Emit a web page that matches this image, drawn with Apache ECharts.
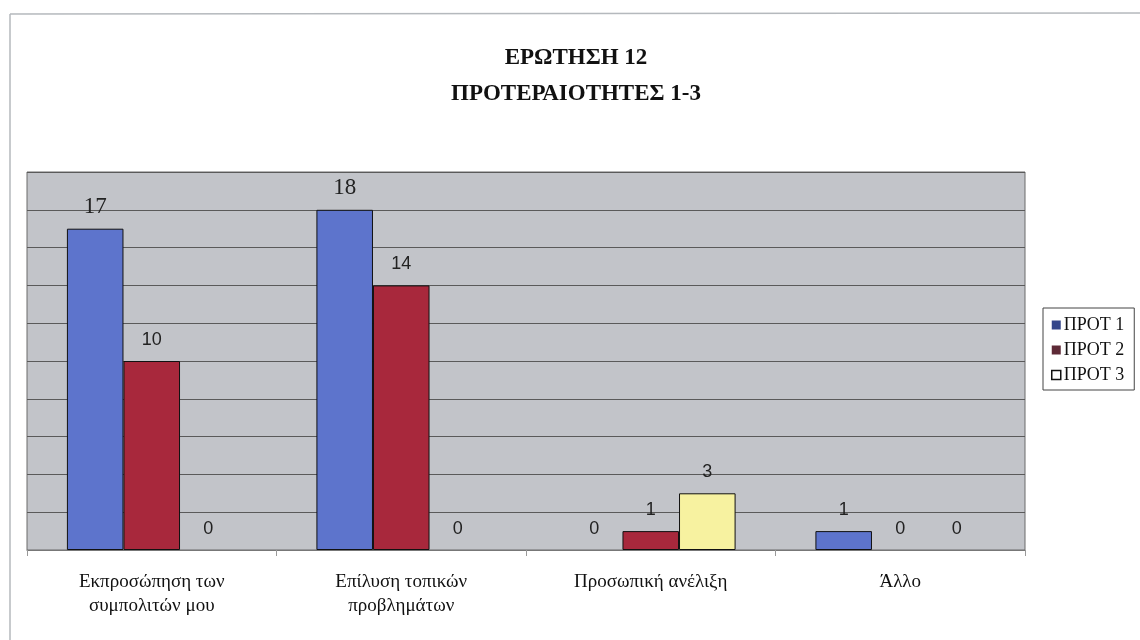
<!DOCTYPE html>
<html>
<head>
<meta charset="utf-8">
<script src="https://cdn.jsdelivr.net/npm/echarts@6/dist/echarts.min.js"></script>
<style>
html,body{margin:0;padding:0;background:#fff;}
#chart{width:1140px;height:640px;}
</style>
</head>
<body>
<div id="chart"></div>
<script>
const titleLines = ['ΕΡΩΤΗΣΗ 12', 'ΠΡΟΤΕΡΑΙΟΤΗΤΕΣ 1-3'];
const categories = ['Εκπροσώπηση των\nσυμπολιτών μου', 'Επίλυση τοπικών\nπροβλημάτων', 'Προσωπική ανέλιξη', 'Άλλο'];
const seriesNames = ['ΠΡΟΤ 1', 'ΠΡΟΤ 2', 'ΠΡΟΤ 3'];
const prot1 = [17, 18, 0, 1];
const prot2 = [10, 14, 1, 0];
const prot3 = [0, 0, 3, 0];
const yMax = 20;
const yInterval = 2;

const barColors = ['#5d74cc', '#a8283c', '#f7f2a0'];
const legendColors = ['#34468a', '#5e2a36', '#ffffff'];
const serifFont = '"Liberation Serif", "DejaVu Serif", serif';
const sansFont = '"Liberation Sans", Arial, sans-serif';

function makeData(values) {
  return values.map(v => {
    const d = { value: v };
    if (v >= 15) {
      d.label = { fontFamily: serifFont, fontSize: 23, distance: 10 };
    }
    if (v === 0) {
      d.itemStyle = { borderWidth: 0 };
    }
    return d;
  });
}

function makeSeries(name, values, idx) {
  return {
    name: name,
    type: 'bar',
    data: makeData(values),
    barGap: '0%',
    barCategoryGap: '32%',
    itemStyle: { color: barColors[idx], borderColor: '#111', borderWidth: 1 },
    label: {
      show: true,
      position: 'top',
      distance: 12,
      color: '#222',
      fontFamily: sansFont,
      fontSize: 18
    },
    emphasis: { disabled: true }
  };
}

const chart = echarts.init(document.getElementById('chart'), null, { renderer: 'canvas' });
chart.setOption({
  animation: false,
  backgroundColor: '#ffffff',
  title: {
    text: titleLines.join('\n'),
    left: 571,
    textAlign: 'center',
    top: 35,
    textStyle: {
      fontFamily: serifFont,
      fontWeight: 'bold',
      fontSize: 23,
      lineHeight: 36,
      color: '#111'
    }
  },
  legend: {
    orient: 'vertical',
    left: 1043,
    top: 308,
    padding: [8, 10, 6, 8],
    borderColor: '#444',
    borderWidth: 1,
    backgroundColor: '#fff',
    icon: 'rect',
    itemWidth: 9,
    itemHeight: 9,
    itemGap: 7,
    selectedMode: false,
    textStyle: { fontFamily: serifFont, fontSize: 18, color: '#111', padding: [0, 0, 0, -2] },
    data: seriesNames.map((n, i) => ({
      name: n,
      itemStyle: { color: legendColors[i], borderColor: '#111', borderWidth: i === 2 ? 1.5 : 0 }
    }))
  },
  grid: {
    left: 27,
    right: 115,
    top: 172,
    bottom: 90,
    show: true,
    backgroundColor: '#c2c4c9',
    borderColor: '#6a6a6a',
    borderWidth: 1,
    containLabel: false
  },
  xAxis: {
    type: 'category',
    data: categories,
    axisLine: { show: true, lineStyle: { color: '#777', width: 1 } },
    axisTick: { show: true, length: 6, lineStyle: { color: '#999' } },
    axisLabel: {
      color: '#111',
      fontFamily: serifFont,
      fontSize: 19,
      lineHeight: 24,
      margin: 20,
      interval: 0
    }
  },
  yAxis: {
    type: 'value',
    min: 0,
    max: yMax,
    interval: yInterval,
    axisLine: { show: false },
    axisTick: { show: false },
    axisLabel: { show: false },
    splitLine: { show: true, lineStyle: { color: '#5a5a5a', width: 1 } }
  },
  graphic: [
    { type: 'line', shape: { x1: 10, y1: 14, x2: 10, y2: 640 }, style: { stroke: '#b5b9bd', lineWidth: 1.5 }, silent: true },
    { type: 'line', shape: { x1: 10, y1: 14, x2: 1140, y2: 13 }, style: { stroke: '#b5b9bd', lineWidth: 1.5 }, silent: true }
  ],
  series: [
    makeSeries(seriesNames[0], prot1, 0),
    makeSeries(seriesNames[1], prot2, 1),
    makeSeries(seriesNames[2], prot3, 2)
  ]
});
</script>
</body>
</html>
